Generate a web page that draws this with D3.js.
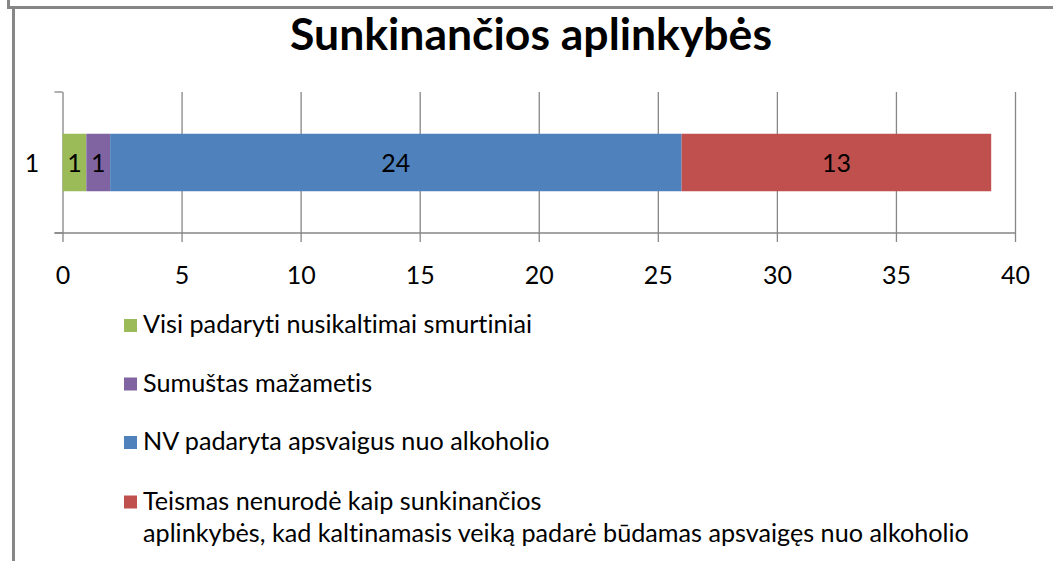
<!DOCTYPE html>
<html>
<head>
<meta charset="utf-8">
<script src="https://cdn.jsdelivr.net/npm/d3@7"></script>
<style>
  body { margin: 0; background: #fff; }
  text { font-family: Lato, "Open Sans", sans-serif; fill: #000; font-variant-ligatures: none; }
</style>
</head>
<body>
<svg id="chart" width="1053" height="561"></svg>
<script>
// data
const categories = ["1"]
const seriesNames = [
    "Visi padaryti nusikaltimai smurtiniai",
    "Sumuštas mažametis",
    "NV padaryta apsvaigus nuo alkoholio",
    "Teismas nenurodė kaip sunkinančios\naplinkybės, kad kaltinamasis veiką padarė būdamas apsvaigęs nuo alkoholio"
]
const seriesValues = [1, 1, 24, 13]
const seriesColors = ["#9BBB59", "#8064A2", "#4F81BD", "#C0504D"]
const xTicks = [0, 5, 10, 15, 20, 25, 30, 35, 40]

const svg = d3.select("#chart")
const grid = "#868686"

// frame
svg.append("path").attr("d", "M8.5,0 V7.5 H1053").attr("fill", "none")
    .attr("stroke", grid).attr("stroke-width", 3)
svg.append("line").attr("x1", 13.5).attr("x2", 13.5).attr("y1", 8).attr("y2", 561)
    .attr("stroke", grid).attr("stroke-width", 3)

// title
svg.append("text")
    .attr("x", 531).attr("y", 50)
    .attr("text-anchor", "middle")
    .style("font-size", "44.5px").style("font-weight", "bold")
    .text("Sunkinančios aplinkybės")

const plot = {left: 62.5, right: 1015, top: 92, bottom: 233}

const x = d3.scaleLinear().domain([0, 40]).range([plot.left, plot.right])
const y = d3.scaleBand().domain(categories).range([plot.top, plot.bottom]).paddingInner(0).paddingOuter(0.3)

// gridlines + ticks below axis
svg.append("g")
    .attr("transform", "translate(0," + plot.top + ")")
    .call(d3.axisBottom(x).tickValues(xTicks).tickSize(plot.bottom - plot.top + 9).tickFormat(""))
    .call(g => g.select(".domain").remove())
    .call(g => g.selectAll("line").attr("stroke", grid).attr("stroke-width", 1.3))

// tick labels
svg.append("g")
    .attr("transform", "translate(0," + plot.bottom + ")")
    .call(d3.axisBottom(x).tickValues(xTicks).tickSize(0))
    .call(g => g.select(".domain").remove())
    .call(g => g.selectAll("text").style("font-size", "25px").attr("dy", 0).attr("y", 51))

// bottom axis line
svg.append("line")
    .attr("x1", plot.left - 8).attr("x2", plot.right)
    .attr("y1", plot.bottom).attr("y2", plot.bottom)
    .attr("stroke", grid).attr("stroke-width", 1.3)

// category axis ticks at band edges
const edges = [plot.top, plot.bottom]
svg.selectAll(".ytick").data(edges).join("line")
    .attr("x1", plot.left - 8).attr("x2", plot.left)
    .attr("y1", d => d).attr("y2", d => d)
    .attr("stroke", grid).attr("stroke-width", 1.3)

svg.selectAll(".ylab").data(categories).join("text")
    .attr("x", 32).attr("y", d => y(d) + y.bandwidth() / 2 + 9)
    .attr("text-anchor", "middle")
    .style("font-size", "25px")
    .text(d => d)

// stacked bar
let cum = 0
const segs = seriesValues.map((v, i) => {
    const s = {start: cum, end: cum + v, value: v, color: seriesColors[i]}
    cum += v
    return s
})

const barH = 57.5
svg.selectAll(".seg").data(segs).join("rect")
    .attr("x", d => x(d.start))
    .attr("width", d => x(d.end) - x(d.start))
    .attr("y", y(categories[0]) + y.bandwidth() / 2 - barH / 2)
    .attr("height", barH)
    .attr("fill", d => d.color)

svg.selectAll(".seglab").data(segs).join("text")
    .attr("x", d => (x(d.start) + x(d.end)) / 2)
    .attr("y", y(categories[0]) + y.bandwidth() / 2 + 9)
    .attr("text-anchor", "middle")
    .style("font-size", "25px")
    .text(d => d.value)

// legend
const legendY = [333, 391.5, 450, 509.5]
const leg = svg.selectAll(".leg").data(seriesNames).join("g")
    .attr("transform", (d, i) => "translate(124," + legendY[i] + ")")

leg.append("rect")
    .attr("x", 0).attr("y", -14).attr("width", 13).attr("height", 13)
    .attr("fill", (d, i) => seriesColors[i])

leg.append("text")
    .attr("x", 19).attr("y", 0)
    .style("font-size", "25.2px")
    .selectAll("tspan").data(d => d.split("\n")).join("tspan")
    .attr("x", 19).attr("dy", (d, i) => i === 0 ? 0 : 32)
    .text(d => d)
</script>
</body>
</html>
